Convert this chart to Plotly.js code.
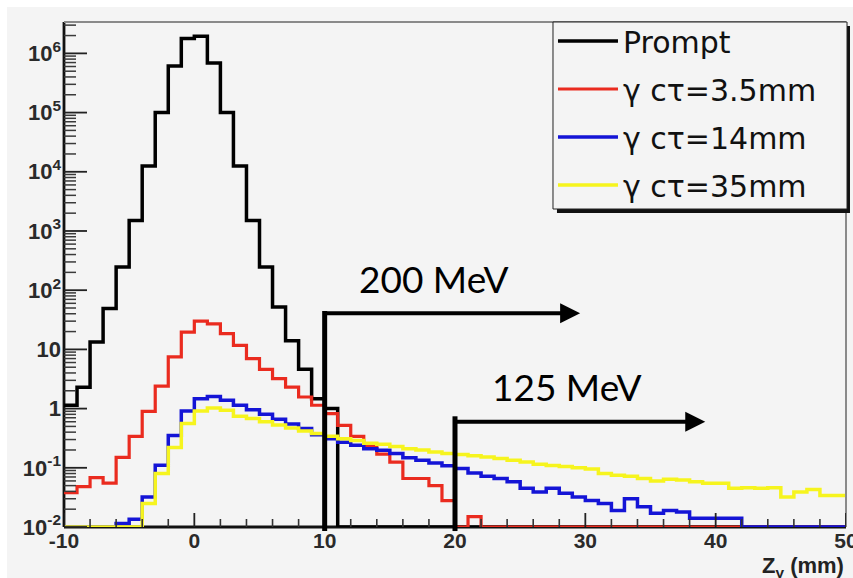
<!DOCTYPE html>
<html><head><meta charset="utf-8">
<script src="https://cdn.plot.ly/plotly-3.0.1.min.js"></script>
<style>
html,body{margin:0;padding:0;background:#ffffff;}
#chart{position:absolute;left:7px;top:7px;width:846px;height:571px;}
</style></head><body><div id="chart"></div>
<script>
// Histogram binning: 60 bins of 1 mm between -10 and 50 mm
const binLow = -10, binWidth = 1, nBins = 60;

// Bin contents (first bin = [-10,-9]); 0 = empty bin
const promptVals = [1.14, 2.3, 13.3, 49, 246, 1500, 12500, 100000, 610000, 1780000,
  1950000, 690000, 100000, 12500, 1500, 246, 52, 14, 4.6, 1.47,
  1.0, 0, 0, 0, 0, 0, 0, 0, 0, 0,
  0, 0, 0, 0, 0, 0, 0, 0, 0, 0,
  0, 0, 0, 0, 0, 0, 0, 0, 0, 0,
  0, 0, 0, 0, 0, 0, 0, 0, 0, 0];
const ct35Vals = [0.038, 0.048, 0.068, 0.055, 0.15, 0.34, 0.9, 2.4, 7.5, 19.6,
  30, 27, 18.5, 11.7, 7.0, 4.6, 3.2, 2.3, 1.57, 1.14,
  0.82, 0.52, 0.34, 0.24, 0.17, 0.125, 0.066, 0.066, 0.05, 0.028,
  0, 0.015, 0, 0, 0, 0, 0, 0, 0, 0,
  0, 0, 0, 0, 0, 0, 0, 0, 0, 0,
  0, 0, 0, 0, 0, 0, 0, 0, 0, 0];
const ct14Vals = [0, 0, 0, 0, 0.0115, 0.0135, 0.032, 0.11, 0.35, 0.91,
  1.47, 1.6, 1.38, 1.14, 0.96, 0.8, 0.66, 0.55, 0.46, 0.36,
  0.31, 0.27, 0.24, 0.21, 0.197, 0.174, 0.148, 0.134, 0.12, 0.108,
  0.097, 0.082, 0.072, 0.066, 0.058, 0.045, 0.039, 0.045, 0.037, 0.032,
  0.028, 0.025, 0.019, 0.030, 0.022, 0.017, 0.019, 0.018, 0.014, 0.014,
  0.014, 0.014, 0, 0, 0, 0, 0, 0, 0, 0];
const ct350Vals = [0, 0, 0, 0, 0, 0, 0.025, 0.08, 0.22, 0.56,
  0.91, 1.02, 0.94, 0.74, 0.68, 0.6, 0.53, 0.47, 0.42, 0.38,
  0.34, 0.31, 0.29, 0.26, 0.25, 0.23, 0.21, 0.2, 0.185, 0.175,
  0.168, 0.16, 0.152, 0.143, 0.134, 0.125, 0.115, 0.109, 0.105, 0.1,
  0.095, 0.08, 0.075, 0.072, 0.066, 0.06, 0.064, 0.062, 0.058, 0.055,
  0.055, 0.045, 0.046, 0.045, 0.046, 0.032, 0.039, 0.043, 0.034, 0.034];

const seriesNames = ['Prompt', 'γ cτ=3.5mm', 'γ cτ=14mm', 'γ cτ=35mm'];

// Axis tick labels
const xTickVals = [-10, 0, 10, 20, 30, 40, 50];
const xTickText = ['-10', '0', '10', '20', '30', '40', '50'];
const yTickVals = [0.01, 0.1, 1, 10, 100, 1000, 10000, 100000, 1000000];
const yTickText = ['10<sup>-2</sup>', '10<sup>-1</sup>', '1', '10', '10<sup>2</sup>',
  '10<sup>3</sup>', '10<sup>4</sup>', '10<sup>5</sup>', '10<sup>6</sup>'];

// Energy-cut markers
const cutZ = [10, 20];
const cutLabels = ['200 MeV', '125 MeV'];
const arrowTipZ = [29.6, 39.2];

const yRangeLog = [-2, 6.53];
const xRange = [-10, 50];
const yFloor = Math.pow(10, yRangeLog[0]);
const edges = Array.from({length: nBins + 1}, (_, i) => binLow + i * binWidth);

function stepTrace(vals, name, color, width) {
  const y = vals.map(v => v > 0 ? v : yFloor); // empty bins drawn on the frame floor (ROOT style)
  y.push(y[y.length - 1]);
  return {x: edges, y: y, type: 'scatter', mode: 'lines', name: name, legendgroup: name,
    line: {shape: 'hv', color: color, width: width}, hoverinfo: 'skip'};
}

const traces = [
  stepTrace(promptVals, seriesNames[0], '#000000', 3.5),
  stepTrace(ct35Vals, seriesNames[1], '#ea2b1f', 3.2),
  stepTrace(ct14Vals, seriesNames[2], '#1414d6', 3.5),
  stepTrace(ct350Vals, seriesNames[3], '#f6f41e', 3.5)
];

// ---- ROOT-style inside ticks, drawn as shapes ----
const PLOT_W = 782, PLOT_H = 505;
const xMinor = [];
for (let v = -10; v <= 50; v += 2) if (v % 10 !== 0) xMinor.push(v);
const yMinor = [];
for (let e = -2; e <= 6; e++) for (let d = 2; d <= 9; d++) {
  const v = d * Math.pow(10, e);
  if (Math.log10(v) < yRangeLog[1]) yMinor.push(v);
}
const yFrac = v => (Math.log10(v) - yRangeLog[0]) / (yRangeLog[1] - yRangeLog[0]);
const tickShapes = [];
xTickVals.forEach(v => tickShapes.push({type: 'line', xref: 'x', yref: 'paper', x0: v, x1: v, y0: 0, y1: 14 / PLOT_H,
  line: {color: '#222', width: 1.8}, layer: 'above'}));
xMinor.forEach(v => tickShapes.push({type: 'line', xref: 'x', yref: 'paper', x0: v, x1: v, y0: 0, y1: 8 / PLOT_H,
  line: {color: '#333', width: 1.6}, layer: 'above'}));
yTickVals.forEach(v => tickShapes.push({type: 'line', xref: 'paper', yref: 'paper', x0: 0, x1: 23 / PLOT_W, y0: yFrac(v), y1: yFrac(v),
  line: {color: '#222', width: 1.8}, layer: 'above'}));
yMinor.forEach(v => tickShapes.push({type: 'line', xref: 'paper', yref: 'paper', x0: 0, x1: 12 / PLOT_W, y0: yFrac(v), y1: yFrac(v),
  line: {color: '#3a3a3a', width: 1.5}, layer: 'above'}));

const xTickFont = {family: 'Liberation Sans, Arial, sans-serif', size: 21, weight: 'bold', color: '#2a2a2a'};
const yTickFont = {family: 'Liberation Sans, Arial, sans-serif', size: 22, weight: 'bold', color: '#2a2a2a'};

const layout = {
  width: 846, height: 571,
  margin: {l: 57, r: 7, t: 15, b: 51},
  paper_bgcolor: '#f4f4f4', plot_bgcolor: '#f4f4f4',
  showlegend: true,
  xaxis: {range: xRange, tickmode: 'array', tickvals: xTickVals, ticktext: xTickText,
    ticks: '', showline: false, showgrid: false, zeroline: false,
    tickfont: xTickFont, ticklabelstandoff: -1, ticklabeloverflow: 'allow'},
  yaxis: {type: 'log', range: yRangeLog, tickmode: 'array', tickvals: yTickVals, ticktext: yTickText,
    ticks: '', showline: false, showgrid: false, zeroline: false,
    tickfont: yTickFont, ticklabelstandoff: 2},
  legend: {x: 0.6253, y: 1.0139, xanchor: 'left', yanchor: 'top', bgcolor: 'rgba(0,0,0,0)',
    borderwidth: 0, tracegroupgap: 6, itemwidth: 60,
    font: {family: 'DejaVu Sans, sans-serif', size: 30, color: '#111'}},
  shapes: [
    // frame: black axis lines (left, bottom) below the histograms, grey top/right
    {type: 'line', xref: 'paper', yref: 'paper', x0: 0, x1: 1, y0: 0, y1: 0, line: {color: '#111', width: 2.8}, layer: 'below'},
    {type: 'line', xref: 'paper', yref: 'paper', x0: 0, x1: 0, y0: 0, y1: 1, line: {color: '#111', width: 2.8}, layer: 'below'},
    {type: 'line', xref: 'paper', yref: 'paper', x0: 0, x1: 1, y0: 1, y1: 1, line: {color: '#8a8a8a', width: 2}},
    {type: 'line', xref: 'paper', yref: 'paper', x0: 1, x1: 1, y0: 0, y1: 1, line: {color: '#8a8a8a', width: 2}}
  ].concat(tickShapes).concat([
    // legend box with shadow
    {type: 'rect', xref: 'paper', yref: 'paper', x0: 0.6304, x1: 1.0051, y0: 0.6218, y1: 0.9921,
      fillcolor: '#111', line: {width: 0}, layer: 'above'},
    {type: 'rect', xref: 'paper', yref: 'paper', x0: 0.6253, x1: 1.0013, y0: 0.6297, y1: 1.0,
      fillcolor: '#f4f4f4', line: {color: '#222', width: 1}, layer: 'above'},
    // energy-cut markers
    {type: 'line', xref: 'x', yref: 'paper', x0: cutZ[0], x1: cutZ[0], y0: -0.008, y1: 0.4277, line: {color: '#000', width: 5}, layer: 'above'},
    {type: 'line', xref: 'x', yref: 'paper', x0: cutZ[1], x1: cutZ[1], y0: -0.008, y1: 0.2192, line: {color: '#000', width: 5}, layer: 'above'}
  ]),
  annotations: [
    {x: arrowTipZ[0], y: 0.4232, xref: 'x', yref: 'paper', ax: cutZ[0], axref: 'x', ay: 0, ayref: 'pixel',
      text: '', showarrow: true, arrowhead: 2, arrowsize: 1, arrowwidth: 4, arrowcolor: '#000', standoff: 0, startstandoff: 0},
    {x: arrowTipZ[1], y: 0.2085, xref: 'x', yref: 'paper', ax: cutZ[1], axref: 'x', ay: 0, ayref: 'pixel',
      text: '', showarrow: true, arrowhead: 2, arrowsize: 1, arrowwidth: 4, arrowcolor: '#000', standoff: 0, startstandoff: 0},
    {x: 0.4731, y: 0.4911, xref: 'paper', yref: 'paper', text: cutLabels[0], showarrow: false,
      xanchor: 'center', yanchor: 'middle', font: {family: 'Lato, sans-serif', size: 37, color: '#000'}},
    {x: 0.6432, y: 0.2792, xref: 'paper', yref: 'paper', text: cutLabels[1], showarrow: false,
      xanchor: 'center', yanchor: 'middle', font: {family: 'Lato, sans-serif', size: 37, color: '#000'}},
    {x: 1.0, y: -0.079, xref: 'paper', yref: 'paper', text: 'Z<sub>γ</sub> (mm)', showarrow: false,
      xanchor: 'right', yanchor: 'middle', font: {family: 'Liberation Sans, Arial, sans-serif', size: 22, weight: 'bold', color: '#222'}}
  ]
};

Plotly.newPlot('chart', traces, layout, {displayModeBar: false, staticPlot: true});
</script></body></html>
